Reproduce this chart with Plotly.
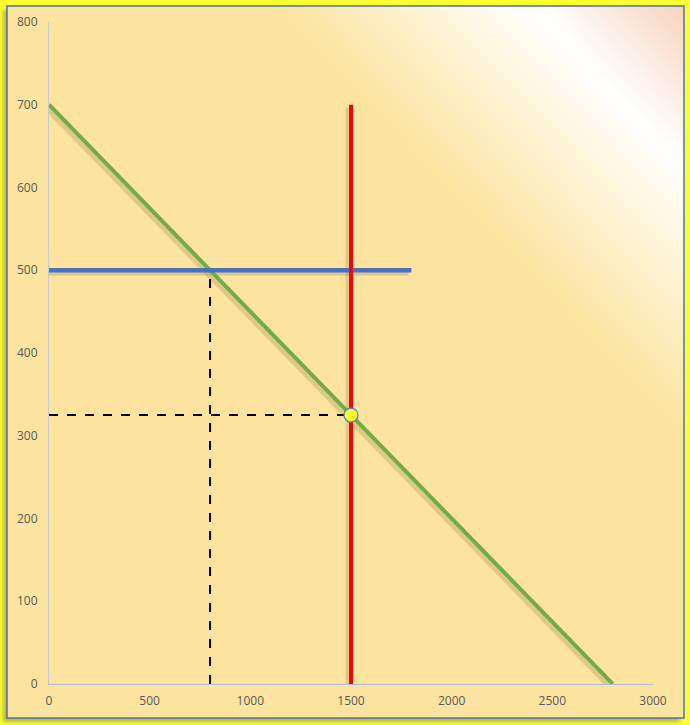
import base64
import plotly.graph_objects as go

# ---- data ----
demand_x = [0, 2800]
demand_y = [700, 0]
price_x = [0, 1800]
price_y = [500, 500]
supply_x = [1500, 1500]
supply_y = [0, 700]
qty_drop_x = [800, 800]
qty_drop_y = [0, 500]
price_drop_x = [0, 1500]
price_drop_y = [325, 325]
eq_x = [1500]
eq_y = [325]
x_ticks = [0, 500, 1000, 1500, 2000, 2500, 3000]
y_ticks = [0, 100, 200, 300, 400, 500, 600, 700, 800]

W, H = 690, 725
ML, MR, MT, MB = 49, 37, 22, 41
PW, PH = W - ML - MR, H - MT - MB
XR, YR = [0, 3000], [0, 800]

# background artwork (yellow frame, shadow, gradient panel, blue border)
svg = f'''<svg xmlns="http://www.w3.org/2000/svg" width="{W}" height="{H}" viewBox="0 0 {W} {H}">
<defs>
<linearGradient id="g" x1="0" y1="1" x2="1" y2="0">
<stop offset="0" stop-color="#FCE4A0"/>
<stop offset="0.70" stop-color="#FCE4A0"/>
<stop offset="0.89" stop-color="#FFFFFF"/>
<stop offset="1" stop-color="#F7D3BC"/>
</linearGradient>
<filter id="b" x="-5%" y="-5%" width="110%" height="110%"><feGaussianBlur stdDeviation="2"/></filter>
</defs>
<rect x="0" y="0" width="{W}" height="{H}" fill="#FFFF33"/>
<rect x="3" y="10" width="677" height="712" fill="#6E6E40" opacity="0.5" filter="url(#b)"/>
<rect x="7" y="6" width="677" height="712" fill="url(#g)" stroke="#4472C4" stroke-width="1.5"/>
</svg>'''
src = "data:image/svg+xml;base64," + base64.b64encode(svg.encode()).decode()

fig = go.Figure()

# soft shadow (~3px left/down) in data units
sx = -3 * (XR[1] - XR[0]) / PW
sy = -3 * (YR[1] - YR[0]) / PH
shadow = dict(color="rgba(120,90,40,0.2)", width=5)

for xs, ys in [(demand_x, demand_y), (supply_x, supply_y), (price_x, price_y)]:
    fig.add_trace(go.Scatter(x=[v + sx for v in xs], y=[v + sy for v in ys], mode="lines",
                             line=shadow, hoverinfo="skip", showlegend=False))

fig.add_trace(go.Scatter(x=qty_drop_x, y=qty_drop_y, mode="lines",
                         line=dict(color="black", width=2, dash="dash"), showlegend=False))
fig.add_trace(go.Scatter(x=price_drop_x, y=price_drop_y, mode="lines",
                         line=dict(color="black", width=2, dash="dash"), showlegend=False))
fig.add_trace(go.Scatter(x=demand_x, y=demand_y, mode="lines",
                         line=dict(color="#70AD47", width=4), showlegend=False))
fig.add_trace(go.Scatter(x=price_x, y=price_y, mode="lines",
                         line=dict(color="#4472C4", width=4.5), showlegend=False))
fig.add_trace(go.Scatter(x=supply_x, y=supply_y, mode="lines",
                         line=dict(color="#FF0000", width=4), showlegend=False))
fig.add_trace(go.Scatter(x=eq_x, y=eq_y, mode="markers",
                         marker=dict(size=14, color="#FFFF33", line=dict(color="#5B7BB8", width=1.2)),
                         showlegend=False))

fig.add_layout_image(dict(source=src, xref="paper", yref="paper",
                          x=-ML / PW, y=1 + MT / PH, sizex=W / PW, sizey=H / PH,
                          xanchor="left", yanchor="top", sizing="stretch", layer="below"))

axfont = dict(family="Open Sans, Liberation Sans, sans-serif", size=12, color="#595959")
fig.update_layout(
    width=W, height=H,
    margin=dict(l=ML, r=MR, t=MT, b=MB, pad=0),
    paper_bgcolor="#FFFF33", plot_bgcolor="rgba(0,0,0,0)",
    xaxis=dict(range=XR, tickvals=x_ticks, ticktext=[str(v) for v in x_ticks],
               showgrid=False, zeroline=False, showline=True, linecolor="#B0BCD4", linewidth=1,
               ticks="", tickfont=axfont, ticklabelstandoff=6, fixedrange=True),
    yaxis=dict(range=YR, tickvals=y_ticks, ticktext=[str(v) for v in y_ticks],
               showgrid=False, zeroline=False, showline=True, linecolor="#C8C8C8", linewidth=1,
               ticks="", tickfont=axfont, ticklabelstandoff=8, fixedrange=True),
)

fig.write_html("out.html", config={"displayModeBar": False},
               post_script="document.body.style.margin='0';document.body.style.overflow='hidden';")
